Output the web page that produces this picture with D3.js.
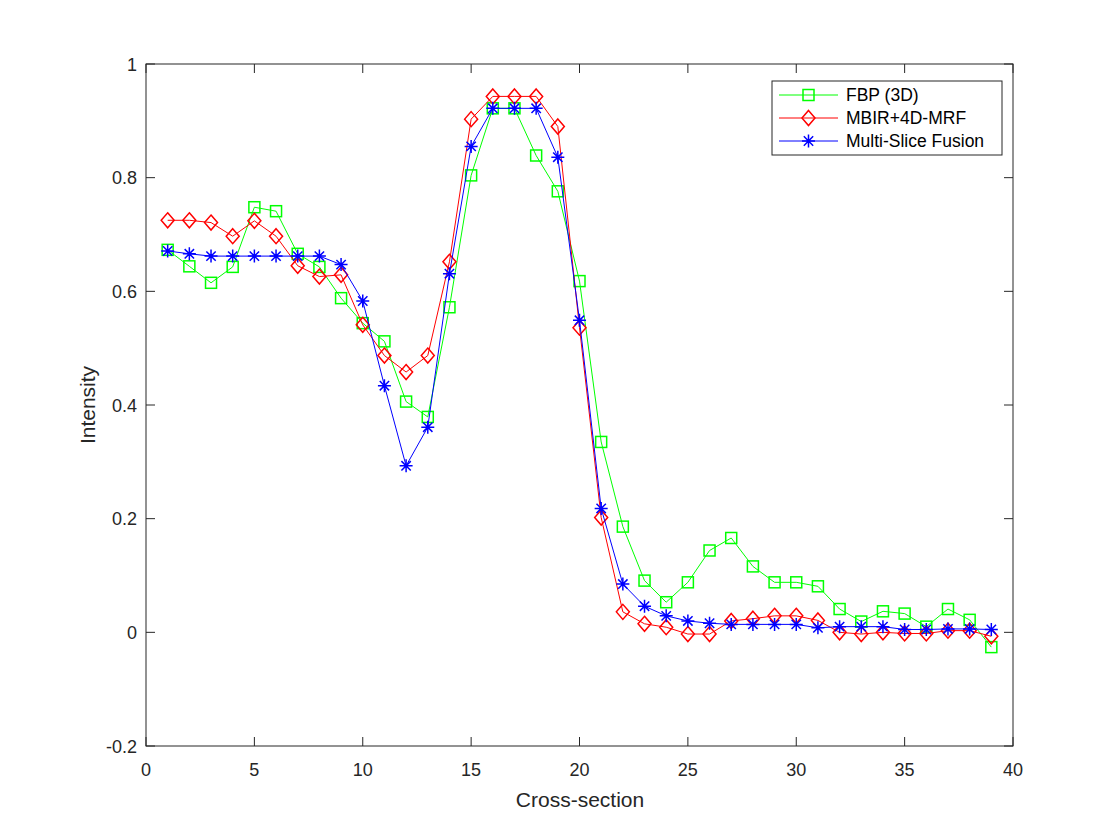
<!DOCTYPE html>
<html>
<head>
<meta charset="utf-8" />
<title></title>
<style>
html, body {
    padding: 0px;
    margin: 0px;
    background: #fff;
}
svg text {
    font-family: "Liberation Sans", Arial, Helvetica, sans-serif;
}
</style>
</head>
<body>
<div id="chart"></div>
<script src="https://cdnjs.cloudflare.com/ajax/libs/d3/7.8.5/d3.min.js"></script>
<script>
!(function(){
    "use strict"

    // data
    var xs = d3.range(1, 40)
    var fbp = [0.673, 0.644, 0.615, 0.643, 0.748, 0.741, 0.666, 0.643, 0.588, 0.544,
               0.512, 0.406, 0.379, 0.572, 0.804, 0.922, 0.922, 0.839, 0.776, 0.618,
               0.335, 0.186, 0.091, 0.053, 0.088, 0.144, 0.166, 0.116, 0.088, 0.088,
               0.081, 0.041, 0.019, 0.037, 0.033, 0.010, 0.041, 0.022, -0.026]
    var mbir = [0.725, 0.725, 0.721, 0.697, 0.724, 0.697, 0.645, 0.626, 0.629, 0.541,
                0.487, 0.458, 0.487, 0.652, 0.903, 0.943, 0.943, 0.943, 0.890, 0.536,
                0.202, 0.036, 0.015, 0.009, -0.003, -0.003, 0.020, 0.024, 0.029, 0.029,
                0.021, 0.000, -0.003, 0.000, -0.002, -0.002, 0.003, 0.003, -0.007]
    var msf = [0.671, 0.666, 0.662, 0.662, 0.662, 0.662, 0.662, 0.662, 0.647, 0.583,
               0.434, 0.293, 0.361, 0.631, 0.855, 0.922, 0.922, 0.922, 0.836, 0.549,
               0.218, 0.085, 0.046, 0.029, 0.020, 0.016, 0.014, 0.014, 0.014, 0.014,
               0.008, 0.010, 0.010, 0.010, 0.005, 0.005, 0.006, 0.006, 0.005]
    var seriesNames = ["FBP (3D)", "MBIR+4D-MRF", "Multi-Slice Fusion"]
    var seriesColors = ["#00ff00", "#ff0000", "#0000ff"]
    var seriesMarkers = ["square", "diamond", "asterisk"]
    var xTicks = [0, 5, 10, 15, 20, 25, 30, 35, 40]
    var yTicks = [-0.2, 0, 0.2, 0.4, 0.6, 0.8, 1]

    var W = 1120, H = 840
    var left = 146, right = 1013, top = 64, bottom = 746

    var svg = d3.select("#chart").append("svg")
        .attr("width", W).attr("height", H)

    var x = d3.scaleLinear().domain([0, 40]).range([left, right])
    var y = d3.scaleLinear().domain([-0.2, 1]).range([bottom, top])

    var ax = svg.append("g").attr("class", "axes")
    var tl = 9

    // ticks on all four sides, pointing inward
    xTicks.forEach(function(t){
        ax.append("line").attr("x1", x(t)).attr("x2", x(t))
            .attr("y1", bottom).attr("y2", bottom - tl)
        ax.append("line").attr("x1", x(t)).attr("x2", x(t))
            .attr("y1", top).attr("y2", top + tl)
        ax.append("text").attr("x", x(t)).attr("y", bottom + 30)
            .attr("text-anchor", "middle").attr("font-size", 18).attr("fill", "#262626")
            .text(t)
    })
    yTicks.forEach(function(t){
        ax.append("line").attr("x1", left).attr("x2", left + tl)
            .attr("y1", y(t)).attr("y2", y(t))
        ax.append("line").attr("x1", right).attr("x2", right - tl)
            .attr("y1", y(t)).attr("y2", y(t))
        ax.append("text").attr("x", left - 9).attr("y", y(t) + 6.5)
            .attr("text-anchor", "end").attr("font-size", 18).attr("fill", "#262626")
            .text(t)
    })
    ax.selectAll("line").attr("stroke", "#262626").attr("stroke-width", 1)
    ax.append("rect").attr("x", left).attr("y", top)
        .attr("width", right - left).attr("height", bottom - top)
        .attr("fill", "none").attr("stroke", "#262626").attr("stroke-width", 1)

    svg.append("text").attr("x", (left + right) / 2 + 0.5).attr("y", 807)
        .attr("text-anchor", "middle").attr("font-size", 21).attr("fill", "#262626")
        .text("Cross-section")
    svg.append("text").attr("transform", "translate(95," + ((top + bottom) / 2) + ") rotate(-90)")
        .attr("text-anchor", "middle").attr("font-size", 21).attr("fill", "#262626")
        .text("Intensity")

    function drawMarker(g, kind, cx, cy, color) {
        if (kind === "square") {
            g.append("rect").attr("x", cx - 5.5).attr("y", cy - 5.5)
                .attr("width", 11).attr("height", 11)
                .attr("fill", "none").attr("stroke", color).attr("stroke-width", 1.5)
        } else if (kind === "diamond") {
            g.append("path")
                .attr("d", "M" + cx + "," + (cy - 7.5) + "L" + (cx + 6.5) + "," + cy +
                    "L" + cx + "," + (cy + 7.5) + "L" + (cx - 6.5) + "," + cy + "Z")
                .attr("fill", "none").attr("stroke", color).attr("stroke-width", 1.5)
        } else {
            var r = 6.5, d = r * 0.72
            g.append("path")
                .attr("d", "M" + (cx - r) + "," + cy + "L" + (cx + r) + "," + cy +
                    "M" + cx + "," + (cy - r) + "L" + cx + "," + (cy + r) +
                    "M" + (cx - d) + "," + (cy - d) + "L" + (cx + d) + "," + (cy + d) +
                    "M" + (cx - d) + "," + (cy + d) + "L" + (cx + d) + "," + (cy - d))
                .attr("fill", "none").attr("stroke", color).attr("stroke-width", 1.5)
        }
    }

    var line = d3.line().x(function(d){ return x(d[0]) }).y(function(d){ return y(d[1]) })
    var allSeries = [fbp, mbir, msf]

    allSeries.forEach(function(vals, i){
        var pts = xs.map(function(v, j){ return [v, vals[j]] })
        var g = svg.append("g")
        g.append("path").attr("d", line(pts))
            .attr("fill", "none").attr("stroke", seriesColors[i]).attr("stroke-width", 1)
        pts.forEach(function(p){
            drawMarker(g, seriesMarkers[i], x(p[0]), y(p[1]), seriesColors[i])
        })
    })

    // legend
    var lg = svg.append("g")
    lg.append("rect").attr("x", 772).attr("y", 81).attr("width", 230).attr("height", 74)
        .attr("fill", "#fff").attr("stroke", "#262626").attr("stroke-width", 1)
    seriesNames.forEach(function(name, i){
        var ly = 95 + i * 23
        lg.append("line").attr("x1", 779).attr("x2", 838).attr("y1", ly).attr("y2", ly)
            .attr("stroke", seriesColors[i]).attr("stroke-width", 1)
        drawMarker(lg, seriesMarkers[i], 808.5, ly, seriesColors[i])
        lg.append("text").attr("x", 846).attr("y", ly + 6)
            .attr("font-size", 17.5).attr("fill", "#000").text(name)
    })
}());
</script>
</body>
</html>
